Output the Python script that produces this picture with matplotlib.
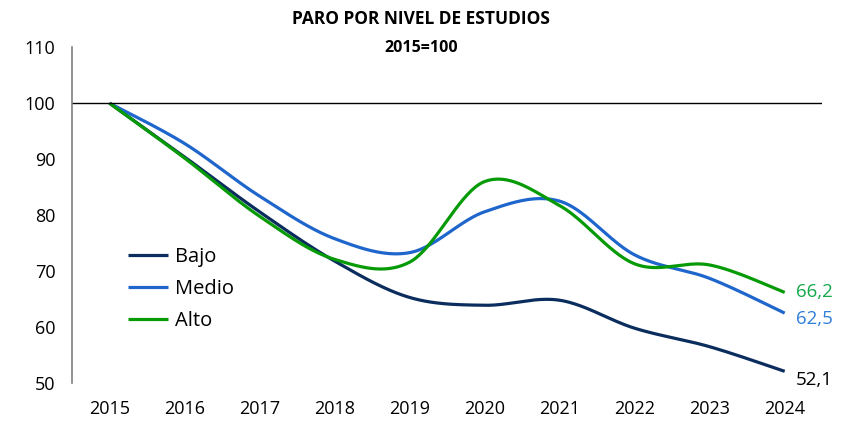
import numpy as np
import matplotlib.pyplot as plt

years = ["2015", "2016", "2017", "2018", "2019", "2020", "2021", "2022", "2023", "2024"]
bajo = [100, 90.4, 80.6, 71.8, 65.3, 63.9, 64.8, 59.8, 56.5, 52.1]
medio = [100, 92.8, 83.4, 75.8, 73.3, 80.6, 82.5, 72.9, 68.7, 62.5]
alto = [100, 90.2, 79.8, 72.1, 71.6, 86.0, 81.7, 71.3, 71.1, 66.2]

series = [
    ("Bajo", bajo, "#0b2d5e", "black"),
    ("Medio", medio, "#1f66cc", "#2e7fd9"),
    ("Alto", alto, "#079a07", "#12a84a"),
]


def smooth(x, y, n=40):
    # Catmull-Rom style bezier smoothing, same idea as spreadsheet "smoothed lines"
    x = np.asarray(x, float)
    y = np.asarray(y, float)
    px = np.concatenate([[x[0]], x, [x[-1]]])
    py = np.concatenate([[y[0]], y, [y[-1]]])
    t = np.linspace(0, 1, n)[:, None]
    xs, ys = [], []
    for i in range(1, len(px) - 2):
        p0 = np.array([px[i], py[i]])
        p3 = np.array([px[i + 1], py[i + 1]])
        c1 = p0 + (p3 - np.array([px[i - 1], py[i - 1]])) / 6
        c2 = p3 - (np.array([px[i + 2], py[i + 2]]) - p0) / 6
        pts = ((1 - t) ** 3) * p0 + 3 * ((1 - t) ** 2) * t * c1 + 3 * (1 - t) * t ** 2 * c2 + t ** 3 * p3
        xs.append(pts[:, 0])
        ys.append(pts[:, 1])
    return np.concatenate(xs), np.concatenate(ys)


plt.rcParams['font.family'] = ['Open Sans', 'DejaVu Sans']

fig = plt.figure(figsize=(8.42, 4.29), dpi=100)
ax = fig.add_axes([0.0855, 0.107, 0.891, 0.783])

x = np.arange(len(years))
for name, vals, col, lblcol in series:
    sx, sy = smooth(x, vals)
    ax.plot(sx, sy, color=col, lw=2.3, label=name, solid_capstyle='butt')

ax.axhline(100, color='black', lw=1)

# value labels at the last year
offsets = {"Bajo": -6, "Medio": -4, "Alto": 0}
for name, vals, col, lblcol in series:
    ax.annotate(f"{vals[-1]:.1f}".replace(".", ","), (x[-1], vals[-1]),
                xytext=(8, offsets[name]), textcoords='offset points',
                ha='left', va='center', fontsize=13.5, color=lblcol)

ax.set_xlim(-0.5, 9.5)
ax.set_ylim(50, 110)
ax.set_yticks(range(50, 111, 10))
ax.set_xticks(x)
ax.set_xticklabels(years)
ax.tick_params(axis='both', length=0, labelsize=13)
ax.tick_params(axis='y', pad=12)
ax.tick_params(axis='x', pad=12)
for s in ['top', 'right', 'bottom']:
    ax.spines[s].set_visible(False)
ax.spines['left'].set_color('#808080')
ax.spines['left'].set_linewidth(1.2)

leg = ax.legend(loc='upper left', bbox_to_anchor=(0.05, 0.46), frameon=False,
                fontsize=14.5, handlelength=2.0, handletextpad=0.35, labelspacing=0.6)

fig.text(0.5, 0.955, "PARO POR NIVEL DE ESTUDIOS", ha='center', va='center',
         fontsize=12.5, fontweight='bold')
fig.text(0.5, 0.888, "2015=100", ha='center', va='center', fontsize=11.5, fontweight='bold')

fig.savefig("out.png", dpi=100)
